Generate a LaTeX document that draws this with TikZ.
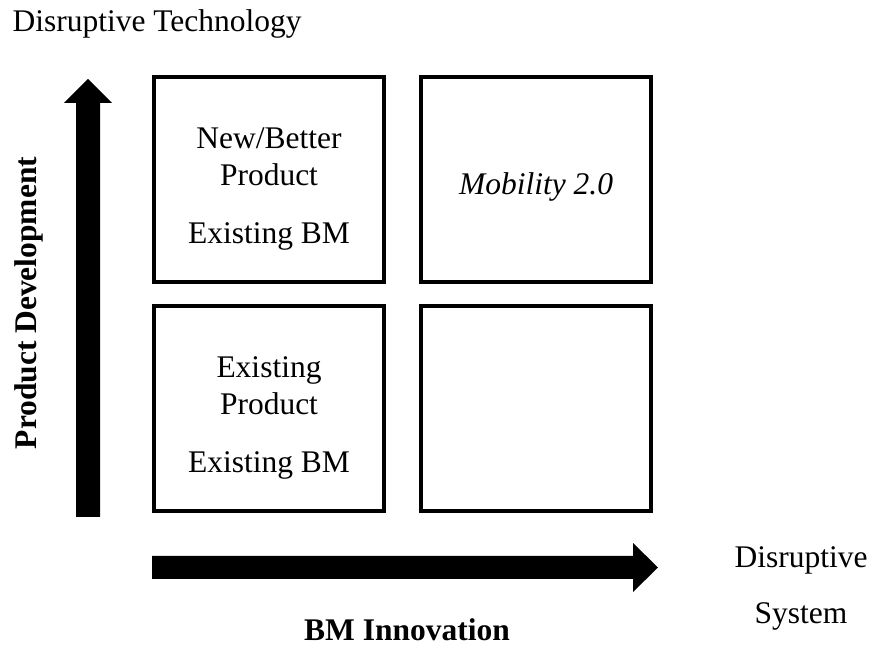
\documentclass[tikz,border=0pt]{standalone}
\usepackage{fontspec}
\setmainfont{Liberation Serif}

\begin{document}
\begin{tikzpicture}[x=0.381pt,y=-0.381pt,
    every node/.style={font=\fontsize{12}{14.1}\selectfont, inner sep=0pt},
    cell/.style={draw, line width=1.52pt, minimum width=87.6pt, minimum height=78.1pt}]
    \useasboundingbox (0,0) rectangle (869,648);

    % the four quadrants
    \node[cell](newprod) at (269,179.5){};
    \node[cell](mobility) at (536,179.5){};
    \node[cell](oldprod) at (269,408.5){};
    \node[cell](empty) at (536,408.5){};

    \node[align=center](newtxt) at (269,189){New/Better\\Product\\[8pt]Existing BM};
    \node[anchor=base](mobtxt) at (536,195){\textit{Mobility 2.0}};
    \node[align=center](oldtxt) at (269,418){Existing\\Product\\[8pt]Existing BM};

    % block arrows along the axes
    \fill (76,517)--(76,103)--(64,103)--(88,79)--(112,103)--(100,103)--(100,517)--cycle;
    \fill (152,556)--(633,556)--(633,543)--(658,567.5)--(633,592)--(633,579)--(152,579)--cycle;

    % axis labels
    \node[anchor=base west](tech) at (12,32){Disruptive Technology};
    \node[anchor=base,rotate=90](ydev) at (36,303){\textbf{Product Development}};
    \node[anchor=base](xinno) at (407,641){\textbf{BM Innovation}};
    \node[anchor=base](sys1) at (801,568){Disruptive};
    \node[anchor=base](sys2) at (801,624){System};
\end{tikzpicture}
\end{document}
